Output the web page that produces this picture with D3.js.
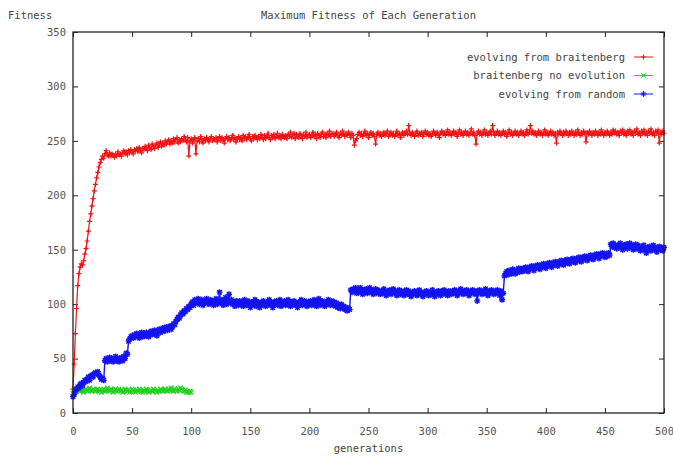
<!DOCTYPE html>
<html><head><meta charset="utf-8">
<script src="https://cdn.jsdelivr.net/npm/d3@7"></script>
<style>
body{margin:0;background:#fff}
text{font-family:"DejaVu Sans Mono",monospace;font-size:10.5px;fill:#444}
</style>
</head><body><svg id="c" width="673" height="457"></svg>
<script>
const chartTitle = "Maximum Fitness of Each Generation";
const yLabel = "Fitness";
const xLabel = "generations";
const xTicks = [0,50,100,150,200,250,300,350,400,450,500];
const yTicks = [0,50,100,150,200,250,300,350];
const seriesNames = ["evolving from braitenberg","braitenberg no evolution","evolving from random"];
const seriesColors = ["#f01414","#22d022","#1414f0"];

// fitness per generation (index = generation)
const redValues = [
22,45,73,96,117,128,134,137,136,140,146,151,158,167,176,183,190,197,204,210,
216,221,226,230,233,236,234,238,241,237,236,239,236,238,237,235,238,236,240,237,
238,236,239,241,238,240,237,241,239,242,240,238,242,241,243,240,244,241,239,243,
242,245,243,241,246,244,242,247,245,243,246,248,244,247,249,245,248,246,250,247,
249,251,247,250,248,252,249,251,253,248,251,249,252,250,254,251,249,253,236,250,
252,248,251,253,238,250,252,249,254,251,248,252,250,253,251,249,252,254,250,252,
251,253,249,252,254,250,253,251,248,252,254,251,253,250,252,255,251,253,249,252,
254,251,253,250,255,252,254,251,253,256,252,250,254,252,255,253,251,254,252,256,
253,251,255,252,254,257,253,251,255,253,256,252,254,257,253,255,252,256,254,253,
255,252,256,254,258,253,255,257,252,256,254,253,257,255,252,256,254,258,253,255,
256,253,255,258,254,256,252,257,255,253,256,258,254,256,253,257,255,259,254,256,
257,254,256,258,255,253,257,255,259,256,254,257,255,258,256,253,257,255,246,250,
252,256,258,255,257,254,256,259,255,257,253,256,258,255,257,254,247,256,258,255,
257,254,256,258,255,257,259,254,256,258,255,257,254,256,259,255,257,253,256,258,
255,257,259,256,264,257,255,258,256,254,257,259,255,257,256,258,254,257,259,256,
258,255,257,254,256,259,257,255,258,256,253,257,259,256,258,255,257,260,256,258,
255,257,259,256,258,254,257,260,256,258,255,257,259,256,258,255,257,261,256,258,
255,247,257,259,256,258,255,257,260,256,258,255,257,259,256,264,258,255,257,259,
256,258,255,257,259,256,258,254,257,260,256,258,255,257,259,256,258,255,257,259,
256,258,255,257,260,256,258,264,257,259,256,258,255,257,259,256,258,255,257,260,
256,258,255,257,259,256,258,255,257,248,258,256,259,257,255,258,256,259,257,255,
258,256,259,257,255,258,256,260,257,255,258,256,259,257,249,258,256,259,257,255,
258,256,259,257,255,258,256,260,257,255,258,256,259,257,255,258,256,260,257,259,
256,258,255,259,257,260,256,258,255,259,257,260,256,258,255,259,257,261,256,258,
255,259,257,260,256,258,255,259,257,261,256,258,255,259,257,260,248,258,256,259,
257];

const greenValues = [
18,19,21,20,22,21,20,22,21,19,21,22,20,21,23,21,20,22,21,20,
21,22,20,21,19,21,22,20,21,23,21,20,22,21,19,21,22,20,21,22,
20,21,19,20,22,21,20,21,19,20,22,21,20,19,21,20,22,21,20,19,
21,20,22,21,19,20,21,20,22,21,20,19,21,20,22,21,20,21,22,21,
20,22,21,23,21,20,22,21,20,22,21,23,22,21,20,21,19,20,19,20,
19];

const blueValues = [
15,17,20,22,24,23,26,27,25,28,30,29,31,33,30,34,35,33,36,37,
36,38,35,33,31,32,30,48,50,47,49,51,48,50,47,49,52,48,50,47,
49,51,48,52,50,55,54,66,68,70,71,69,72,70,73,71,69,72,74,70,
73,71,74,72,70,73,75,72,74,76,73,71,75,77,74,76,78,75,77,79,
76,78,80,77,79,82,81,84,86,88,87,90,92,91,94,93,96,95,98,97,
100,102,99,104,101,103,105,100,102,104,99,103,101,105,102,100,104,101,103,99,
102,105,100,103,111,101,104,99,102,106,100,103,109,101,104,100,102,98,103,101,
99,103,100,102,98,104,101,99,103,100,97,102,99,101,104,98,100,102,97,101,
99,103,100,98,102,100,104,99,101,97,102,100,103,99,101,104,98,102,100,103,
99,101,104,100,98,102,100,103,99,101,97,102,100,104,99,101,103,100,98,102,
100,103,99,101,104,100,98,102,105,99,101,103,100,98,102,100,104,101,99,103,
100,102,98,101,97,99,96,100,97,98,95,97,94,96,95,113,111,114,112,115,
110,113,111,115,112,109,113,111,114,110,112,115,111,113,109,112,114,110,113,111,
109,112,110,114,111,108,112,110,113,109,111,114,110,112,108,111,113,109,112,110,
108,111,113,109,112,110,107,111,109,112,110,108,111,113,109,110,107,111,109,112,
110,108,111,109,113,110,107,111,109,112,110,108,112,110,113,109,111,108,112,110,
109,112,110,113,111,108,112,110,114,111,109,112,110,113,111,108,112,110,113,111,
109,112,103,110,113,111,109,112,110,114,111,108,112,110,113,111,109,112,110,113,
111,108,112,104,110,126,128,130,127,131,129,128,132,130,128,131,129,133,130,132,
130,133,131,134,132,130,134,132,135,133,131,135,133,136,134,132,136,134,137,135,
133,137,135,138,136,134,138,136,139,137,135,139,137,140,138,136,140,138,141,139,
137,141,139,142,140,138,142,140,143,141,139,143,141,144,142,140,144,142,145,143,
141,145,143,146,144,142,146,144,147,145,143,146,144,147,145,155,153,156,152,154,
151,154,152,156,153,150,154,152,155,151,153,156,152,154,150,153,155,151,154,152,
149,153,151,154,150,147,152,150,153,149,151,154,150,152,148,151,153,150,152,149,
152];

const W = 673, H = 457;
const mLeft = 73, mRight = 664, mTop = 32, mBottom = 413;
const svg = d3.select("#c");
svg.append("rect").attr("width",W).attr("height",H).attr("fill","#fff");

const x = d3.scaleLinear().domain([0,500]).range([mLeft,mRight]);
const y = d3.scaleLinear().domain([0,350]).range([mBottom,mTop]);

const markers = {
  plus: s => `M${-s},0H${s}M0,${-s}V${s}`,
  cross: s => `M${-s},${-s}L${s},${s}M${-s},${s}L${s},${-s}`,
  star: s => `M${-s},0H${s}M0,${-s}V${s}M${-s*0.75},${-s*0.75}L${s*0.75},${s*0.75}M${-s*0.75},${s*0.75}L${s*0.75},${-s*0.75}`
};
const series = [
  {name: seriesNames[0], values: redValues, color: seriesColors[0], mk: markers.plus(2.5), lw: 1.2},
  {name: seriesNames[1], values: greenValues, color: seriesColors[1], mk: markers.cross(2.3), lw: 1.3},
  {name: seriesNames[2], values: blueValues, color: seriesColors[2], mk: markers.star(3), lw: 1.4}
];

const tickCol = "#222";
const gx = svg.append("g").attr("transform",`translate(0,${mBottom})`)
  .call(d3.axisBottom(x).tickValues(xTicks).tickSize(-5).tickPadding(15).tickFormat(d3.format("d")));
const gxt = svg.append("g").attr("transform",`translate(0,${mTop})`)
  .call(d3.axisTop(x).tickValues(xTicks).tickSize(-5).tickFormat(""));
const gy = svg.append("g").attr("transform",`translate(${mLeft},0)`)
  .call(d3.axisLeft(y).tickValues(yTicks).tickSize(-5).tickPadding(7).tickFormat(d3.format("d")));
const gyr = svg.append("g").attr("transform",`translate(${mRight},0)`)
  .call(d3.axisRight(y).tickValues(yTicks).tickSize(-5).tickFormat(""));
[gx,gxt,gy,gyr].forEach(g=>{
  g.select(".domain").remove();
  g.selectAll(".tick line").attr("stroke",tickCol).attr("stroke-width",1);
  g.attr("font-family",null).attr("font-size",null);
  g.selectAll("text").style("fill","#555");
});

const line = d3.line().x((d,i)=>x(i)).y(d=>y(d));
series.forEach(s=>{
  svg.append("path").datum(s.values).attr("d",line)
    .attr("fill","none").attr("stroke",s.color).attr("stroke-width",s.lw);
  svg.append("g").selectAll("path").data(s.values).join("path")
    .attr("transform",(d,i)=>`translate(${x(i)},${y(d)})`)
    .attr("d",s.mk).attr("fill","none").attr("stroke",s.color).attr("stroke-width",s.lw);
});

svg.append("rect").attr("x",mLeft).attr("y",mTop).attr("width",mRight-mLeft).attr("height",mBottom-mTop)
  .attr("fill","none").attr("stroke",tickCol).attr("stroke-width",1.3);

svg.append("text").attr("x",8).attr("y",19).text(yLabel);
svg.append("text").attr("x",(mLeft+mRight)/2).attr("y",19).attr("text-anchor","middle").text(chartTitle);
svg.append("text").attr("x",(mLeft+mRight)/2).attr("y",452).attr("text-anchor","middle").text(xLabel);

const legY = [57,75.5,94];
series.forEach((s,i)=>{
  svg.append("text").attr("x",625).attr("y",legY[i]).attr("dy","0.35em").attr("text-anchor","end").text(s.name);
  svg.append("line").attr("x1",634).attr("x2",653).attr("y1",legY[i]).attr("y2",legY[i])
    .attr("stroke",s.color).attr("stroke-width",1);
  svg.append("path").attr("transform",`translate(643.5,${legY[i]})`).attr("d",s.mk)
    .attr("fill","none").attr("stroke",s.color).attr("stroke-width",1);
});
</script>
</body></html>
